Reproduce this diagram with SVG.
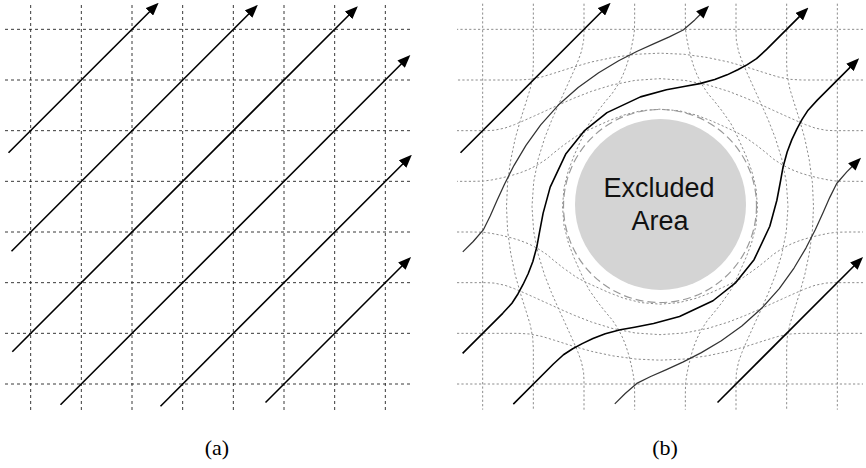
<svg xmlns="http://www.w3.org/2000/svg" width="866" height="468" viewBox="0 0 866 468">
  <style>
    .gridA { fill: none; stroke: #222; stroke-width: 0.9; stroke-dasharray: 3 3; }
    .gridB { fill: none; stroke: #8c8c8c; stroke-width: 1; stroke-dasharray: 2.2 2.2; }
    .flow { fill: none; stroke: #000; stroke-width: 1.6; stroke-linejoin: round; marker-end: url(#ah); }
    .flowThin { fill: none; stroke: #333; stroke-width: 1.25; stroke-linejoin: round; marker-end: url(#ah); }
    .ring { fill: none; stroke: #999; stroke-width: 1.2; stroke-dasharray: 8 4; }
    .label { font-family: "Liberation Sans", Arial, sans-serif; font-size: 27px; fill: #111; text-anchor: middle; }
    .caption { font-family: "Liberation Serif", "Times New Roman", serif; font-size: 22px; fill: #000; text-anchor: middle; }
  </style>
  <defs>
    <marker id="ah" markerUnits="userSpaceOnUse" viewBox="0 0 13 10.5" markerWidth="13" markerHeight="10.5" refX="0.5" refY="5.25" orient="auto">
      <path d="M0,0 L13,5.25 L0,10.5 z" fill="#000"/>
    </marker>
    <path id="gA" d="M-25.33,-203 L-25.33,-188.3 L-25.56,-176.6 L-26.7,-168.4 L-28.7,-158.5 L-31.3,-148.2 L-33.8,-140 L-37.1,-131.6 L-41.5,-122.8 L-47.8,-113.2 L-53.8,-106.2 L-61.3,-96.7 L-70.6,-83.6 L-75.4,-74.5 L-80.4,-63.5 L-86,-50.95 L-91.6,-36.2 L-95.96,-18.94 L-97.5,0 L-95.96,18.94 L-91.6,36.2 L-86,50.95 L-80.4,63.5 L-75.4,74.5 L-70.6,83.6 L-61.3,96.7 L-53.8,106.2 L-47.8,113.2 L-41.5,122.8 L-37.1,131.6 L-33.8,140 L-31.3,148.2 L-28.7,158.5 L-26.7,168.4 L-25.56,176.6 L-25.33,188.3 L-25.33,203"/>
    <path id="gB" d="M-76,-203 L-76,-174 L-76.4,-165.9 L-78.6,-155.1 L-82,-145.6 L-86.1,-136 L-90.8,-125.5 L-96.1,-113.8 L-102.1,-100.7 L-108.6,-85.8 L-115.4,-68.4 L-121.7,-48 L-126.3,-24.9 L-128,0 L-126.3,24.9 L-121.7,48 L-115.4,68.4 L-108.6,85.8 L-102.1,100.7 L-96.1,113.8 L-90.8,125.5 L-86.1,136 L-82,145.6 L-78.6,155.1 L-76.4,165.9 L-76,174 L-76,203"/>
    <path id="gC" d="M-126.67,-203 L-126.67,-141.7 L-127.3,-130.7 L-129.8,-117.9 L-133.6,-105.5 L-139.2,-87.9 L-144.7,-68.5 L-149.2,-47.1 L-152.4,-24.1 L-153.5,0 L-152.4,24.1 L-149.2,47.1 L-144.7,68.5 L-139.2,87.9 L-133.6,105.5 L-129.8,117.9 L-127.3,130.7 L-126.67,141.7 L-126.67,203"/>
    <path id="gD" d="M-177.33,-203 L-177.33,203"/>
  </defs>

  <g id="panel-a">
    <g id="grid-a" class="gridA">
      <path d="M30.67,5 V411 M81.33,5 V411 M132,5 V411 M182.67,5 V411 M233.33,5 V411 M284,5 V411 M334.67,5 V411 M385.33,5 V411"/>
      <path d="M5,29.33 H410.7 M5,80 H410.7 M5,130.67 H410.7 M5,181.33 H410.7 M5,232 H410.7 M5,282.67 H410.7 M5,333.33 H410.7 M5,384 H410.7"/>
    </g>
    <g id="connectors-a">
      <path class="flow" d="M8.5,152.8 L149.8,11.5"/>
      <path class="flow" d="M11.5,251.2 L249,13.7"/>
      <path class="flow" d="M12.3,351.7 L349,15"/>
      <path class="flow" d="M60.5,404.8 L401.5,63.8"/>
      <path class="flow" d="M160.5,406.2 L403,163.7"/>
      <path class="flow" d="M265.5,402.5 L402.2,265.8"/>
    </g>
    <text class="caption" x="217" y="455">(a)</text>
  </g>

  <g id="panel-b">
    <g id="grid-b" class="gridB">
      <use href="#gD" transform="translate(660,206.67)"/>
      <use href="#gC" transform="translate(660,206.67)"/>
      <use href="#gB" transform="translate(660,206.67)"/>
      <use href="#gA" transform="translate(660,206.67)"/>
      <use href="#gA" transform="translate(660,206.67) scale(-1,1)"/>
      <use href="#gB" transform="translate(660,206.67) scale(-1,1)"/>
      <use href="#gC" transform="translate(660,206.67) scale(-1,1)"/>
      <use href="#gD" transform="translate(660,206.67) scale(-1,1)"/>
      <use href="#gD" transform="translate(660,206.67) rotate(90)"/>
      <use href="#gC" transform="translate(660,206.67) rotate(90)"/>
      <use href="#gB" transform="translate(660,206.67) rotate(90)"/>
      <use href="#gA" transform="translate(660,206.67) rotate(90)"/>
      <use href="#gA" transform="translate(660,206.67) rotate(-90)"/>
      <use href="#gB" transform="translate(660,206.67) rotate(-90)"/>
      <use href="#gC" transform="translate(660,206.67) rotate(-90)"/>
      <use href="#gD" transform="translate(660,206.67) rotate(-90)"/>
    </g>
    <g id="excluded-area">
      <circle class="ring" cx="660" cy="206" r="96.5"/>
      <circle cx="660.5" cy="204.5" r="85.5" fill="#d4d4d4"/>
      <text class="label" x="659" y="196.7">Excluded</text>
      <text class="label" x="660" y="230">Area</text>
    </g>
    <g id="connectors-b">
      <path class="flow" d="M460.5,152.8 L601.8,11.5"/>
      <path class="flowThin" d="M462.8,251.9 L473.21,241.49 L483.29,229.92 L490.19,216.04 L496.88,200.82 L504.6,183.92 L514.07,165.33 L525.97,145.37 L540.71,124.85 L558.36,105.06 L578.15,87.41 L598.67,72.67 L618.63,60.77 L637.22,51.3 L654.12,43.58 L669.34,36.89 L683.22,29.99 L694.79,19.91 L700.18,14.52"/>
      <path class="flow" d="M462.6,353.4 L502.72,313.31 L511.92,303.23 L517.93,293.99 L523.05,284.47 L528.16,273.76 L532.85,261.44 L536.93,246.44 L539.51,232.13 L543.13,213.13 L550.19,187.16 L565.95,153.7 L584.19,130.89 L607,112.65 L640.46,96.89 L666.43,89.83 L685.43,86.21 L699.74,83.63 L714.74,79.55 L727.06,74.86 L737.77,69.75 L747.29,64.63 L756.53,58.62 L766.61,49.42 L799.63,16.4"/>
      <path class="flow" d="M513.3,404.08 L553.39,363.98 L563.47,354.78 L572.71,348.77 L582.23,343.65 L592.94,338.54 L605.26,333.85 L620.26,329.77 L634.57,327.19 L653.57,323.57 L679.54,316.51 L713,300.75 L735.81,282.51 L754.05,259.7 L769.81,226.24 L776.87,200.27 L780.49,181.27 L783.07,166.96 L787.15,151.96 L791.84,139.64 L796.95,128.93 L802.07,119.41 L808.08,110.17 L817.28,100.09 L850.3,67.07"/>
      <path class="flowThin" d="M614.8,403.9 L625.21,393.49 L636.78,383.41 L650.66,376.51 L665.88,369.82 L682.78,362.1 L701.37,352.63 L721.33,340.73 L741.85,325.99 L761.64,308.34 L779.29,288.55 L794.03,268.03 L805.93,248.07 L815.4,229.48 L823.12,212.58 L829.81,197.36 L836.71,183.48 L846.79,171.91 L852.18,166.52"/>
      <path class="flow" d="M717.5,402.5 L854.2,265.8"/>
    </g>
    <text class="caption" x="665" y="455">(b)</text>
  </g>
</svg>
